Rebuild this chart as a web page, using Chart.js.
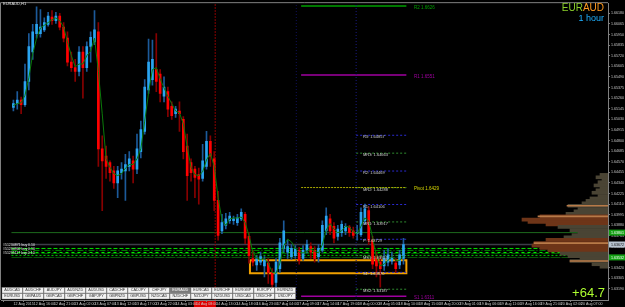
<!DOCTYPE html>
<html>
<head>
<meta charset="utf-8">
<script src="https://cdn.jsdelivr.net/npm/chart.js@4/dist/chart.umd.min.js"></script>
<style>
html, body { margin: 0; padding: 0; background: #000; overflow: hidden; }
#wrap { position: relative; width: 625px; height: 307px; }
canvas { position: absolute; left: 0; top: 0; }
</style>
</head>
<body>
<div id="wrap">
  <canvas id="main" width="625" height="307"></canvas>
  <canvas id="prof" width="625" height="307"></canvas>
</div>
<script>
// EURAUD H1 candles
const opens = [
  1.6516,1.6520,1.6524,1.6519,1.6544,1.6576,1.6596,1.6596,1.6600,1.6606,
  1.6614,1.6610,1.6615,1.6603,1.6591,1.6565,1.6559,1.6555,1.6576,1.6559,
  1.6582,1.6587,1.6598,1.6471,1.6463,1.6456,1.6447,1.6434,1.6445,1.6447,
  1.6452,1.6458,1.6449,1.6468,1.6490,1.6535,1.6546,1.6557,1.6552,1.6528,
  1.6533,1.6517,1.6509,1.6512,1.6503,1.6474,1.6456,1.6449,1.6443,1.6439,
  1.6452,1.6479,1.6460,1.6415,1.6382,1.6388,1.6393,1.6393,1.6391,1.6395,
  1.6400,1.6376,1.6352,1.6345,1.6348,1.6344,1.6347,1.6337,1.6326,1.6341,
  1.6363,1.6359,1.6354,1.6355,1.6361,1.6352,1.6361,1.6365,1.6361,1.6354,
  1.6361,1.6382,1.6395,1.6387,1.6376,1.6380,1.6382,1.6386,1.6382,1.6379,
  1.6378,1.6393,1.6404,1.6372,1.6354,1.6348,1.6344,1.6348,1.6349,1.6347,
  1.6345,1.6352
];
const closes = [
  1.6520,1.6524,1.6519,1.6544,1.6582,1.6598,1.6606,1.6603,1.6608,1.6615,
  1.6610,1.6615,1.6603,1.6591,1.6565,1.6559,1.6555,1.6576,1.6559,1.6582,
  1.6592,1.6600,1.6471,1.6458,1.6452,1.6445,1.6434,1.6447,1.6449,1.6454,
  1.6460,1.6449,1.6471,1.6492,1.6538,1.6565,1.6568,1.6544,1.6531,1.6538,
  1.6514,1.6507,1.6514,1.6509,1.6468,1.6442,1.6445,1.6440,1.6438,1.6458,
  1.6479,1.6463,1.6415,1.6377,1.6391,1.6395,1.6398,1.6395,1.6396,1.6402,
  1.6374,1.6355,1.6348,1.6352,1.6354,1.6350,1.6337,1.6324,1.6348,1.6369,
  1.6382,1.6365,1.6363,1.6362,1.6350,1.6361,1.6367,1.6359,1.6352,1.6363,
  1.6388,1.6398,1.6382,1.6374,1.6384,1.6389,1.6387,1.6380,1.6377,1.6380,
  1.6402,1.6406,1.6372,1.6346,1.6344,1.6341,1.6352,1.6356,1.6353,1.6341,
  1.6356,1.6367
];
const highs = [
  1.6524,1.6533,1.6527,1.6563,1.6596,1.6606,1.6625,1.6622,1.6613,1.6619,
  1.6621,1.6619,1.6618,1.6608,1.6598,1.6576,1.6568,1.6582,1.6582,1.6587,
  1.6598,1.6621,1.6608,1.6485,1.6474,1.6458,1.6452,1.6452,1.6456,1.6465,
  1.6468,1.6463,1.6487,1.6501,1.6546,1.6590,1.6589,1.6596,1.6557,1.6549,
  1.6538,1.6522,1.6517,1.6522,1.6506,1.6487,1.6460,1.6452,1.6450,1.6476,
  1.6490,1.6485,1.6468,1.6425,1.6400,1.6401,1.6402,1.6398,1.6400,1.6406,
  1.6402,1.6380,1.6361,1.6355,1.6359,1.6354,1.6352,1.6341,1.6352,1.6374,
  1.6393,1.6372,1.6367,1.6366,1.6364,1.6366,1.6372,1.6369,1.6365,1.6367,
  1.6393,1.6407,1.6400,1.6391,1.6388,1.6393,1.6390,1.6388,1.6386,1.6388,
  1.6407,1.6411,1.6408,1.6376,1.6359,1.6354,1.6361,1.6363,1.6359,1.6352,
  1.6361,1.6374
];
const lows = [
  1.6512,1.6514,1.6509,1.6517,1.6535,1.6568,1.6591,1.6592,1.6598,1.6604,
  1.6606,1.6607,1.6600,1.6587,1.6561,1.6555,1.6544,1.6550,1.6526,1.6555,
  1.6565,1.6584,1.6452,1.6404,1.6439,1.6436,1.6428,1.6418,1.6438,1.6415,
  1.6447,1.6434,1.6444,1.6461,1.6487,1.6531,1.6540,1.6533,1.6522,1.6522,
  1.6506,1.6503,1.6505,1.6490,1.6460,1.6415,1.6436,1.6418,1.6411,1.6436,
  1.6449,1.6452,1.6404,1.6372,1.6379,1.6384,1.6390,1.6389,1.6388,1.6393,
  1.6368,1.6347,1.6344,1.6339,1.6345,1.6332,1.6325,1.6318,1.6321,1.6337,
  1.6359,1.6352,1.6351,1.6352,1.6346,1.6350,1.6358,1.6352,1.6348,1.6348,
  1.6359,1.6378,1.6378,1.6369,1.6372,1.6376,1.6378,1.6376,1.6374,1.6372,
  1.6376,1.6389,1.6367,1.6341,1.6332,1.6321,1.6339,1.6344,1.6346,1.6337,
  1.6341,1.6346
];
// moving average drawn through the candles
const ma = [
  1.6518,1.6520,1.6521,1.6529,1.6548,1.6574,1.6591,1.6602,1.6605,1.6608,
  1.6611,1.6613,1.6610,1.6603,1.6587,1.6572,1.6560,1.6563,1.6563,1.6572,
  1.6577,1.6591,1.6555,1.6509,1.6460,1.6451,1.6444,1.6442,1.6444,1.6450,
  1.6454,1.6454,1.6460,1.6471,1.6501,1.6532,1.6557,1.6559,1.6547,1.6537,
  1.6528,1.6520,1.6512,1.6510,1.6498,1.6473,1.6451,1.6443,1.6442,1.6446,
  1.6459,1.6466,1.6452,1.6418,1.6394,1.6388,1.6395,1.6396,1.6396,1.6397,
  1.6391,1.6377,1.6359,1.6352,1.6351,1.6352,1.6347,1.6337,1.6336,1.6347,
  1.6366,1.6373,1.6370,1.6363,1.6359,1.6358,1.6360,1.6362,1.6360,1.6358,
  1.6367,1.6383,1.6390,1.6384,1.6380,1.6382,1.6387,1.6386,1.6381,1.6379,
  1.6387,1.6396,1.6393,1.6375,1.6354,1.6344,1.6346,1.6350,1.6354,1.6350,
  1.6350,1.6355
];

// weekly levels (long lines) and daily levels (short dotted lines)
const weeklyNames = ['R2', 'R1', 'Pivot', 'S1'];
const weeklyLevels = [1.6626, 1.6551, 1.6429, 1.6311];
const dailyNames = ['R3', 'MR3', 'R2', 'MR2', 'R1', 'MR1', 'P', 'MS1', 'S1', 'MS2'];
const dailyLevels = [1.64857, 1.64663, 1.64469, 1.64288, 1.64106, 1.63917, 1.63729, 1.63552, 1.63370, 1.63187];
const orderLevels = [1.63629, 1.63608, 1.63586, 1.63575, 1.63554, 1.63532];
const supportLine = 1.63801;
const bidPrice = 1.63672;
const zoneTop = 1.6350, zoneBottom = 1.6336;

// volume profile on the right
const profPrices = [
  1.6438,1.6435,1.6432,1.6429,1.6425,1.6422,1.6419,1.6416,1.6412,1.6409,
  1.6406,1.6403,1.6400,1.6396,1.6393,1.6390,1.6387,1.6383,1.6380,1.6377,
  1.6374,1.6370,1.6367,1.6364,1.6361,1.6358,1.6354,1.6351,1.6348,1.6345,
  1.6341,1.6338,1.6335,1.6332,1.6328,1.6325
];
const profVolumes = [
  8,12,6,10,14,8,12,16,10,18,
  22,26,40,30,34,42,68,86,80,62,
  50,38,30,36,44,62,74,76,68,60,
  48,40,28,38,16,8
];
const profPeakPrices = [1.6400, 1.6387, 1.6354, 1.6332];
const profPeakVolumes = [41, 70, 74, 38];

const priceTicks = [
  1.66180,1.66065,1.65950,1.65835,1.65720,1.65605,1.65490,1.65375,1.65260,
  1.65145,1.65030,1.64915,1.64800,1.64685,1.64570,1.64455,1.64340,1.64225,
  1.64110,1.63995,1.63880,1.63765,1.63650,1.63535,1.63420,1.63305,1.63190
];
const timeTicks = [
  '12 Aug 2015','12 Aug 16:00','12 Aug 21:00','13 Aug 02:00','13 Aug 07:00',
  '13 Aug 12:00','13 Aug 17:00','13 Aug 22:00','14 Aug 03:00','14 Aug 08:00',
  '14 Aug 13:00','14 Aug 18:00','16 Aug 23:00','17 Aug 04:00','17 Aug 09:00',
  '17 Aug 14:00','17 Aug 19:00','18 Aug 00:00','18 Aug 05:00','18 Aug 10:00',
  '18 Aug 15:00','18 Aug 20:00','19 Aug 01:00','19 Aug 06:00','19 Aug 11:00',
  '19 Aug 16:00','19 Aug 21:00','20 Aug 02:00','20 Aug 07:00'
];
const symbolsRow1 = ['AUDCAD','AUDCHF','AUDJPY','AUDNZD','AUDUSD','CADCHF','CADJPY','CHFJPY','EURAUD','EURCAD','EURCHF','EURGBP','EURJPY','EURNZD'];
const symbolsRow2 = ['EURUSD','GBPAUD','GBPCAD','GBPCHF','GBPJPY','GBPNZD','GBPUSD','NZDCAD','NZDCHF','NZDJPY','NZDUSD','USDCAD','USDCHF','USDJPY'];
const profitText = '+64.7';

const yMin = 1.6307, yMax = 1.6629;
const xMin = -0.5, xMax = 151.25;
const tickStep = 5.25;

const bull = '#2aa4f0', bullWick = '#1c5a9a', bear = '#ff0000', bearWick = '#870000';
const isUp = i => closes[i] >= opens[i];

function hline(y, x0, x1, color, dash, width) {
  return { type: 'line', data: [{ x: x0, y: y }, { x: x1, y: y }], borderColor: color,
    borderDash: dash || [], borderWidth: width || 1, pointRadius: 0, order: 3 };
}
function vline(x, color, dash) {
  return { type: 'line', data: [{ x: x, y: yMin }, { x: x, y: yMax }], borderColor: color,
    borderDash: dash, borderWidth: 1, pointRadius: 0, order: 3 };
}

const datasets = [];
datasets.push({
  type: 'line', data: ma.map((v, i) => ({ x: i, y: v })), borderColor: '#0a7a0a',
  borderWidth: 1, pointRadius: 0, order: 0
});
datasets.push({
  type: 'bar', data: closes.map((c, i) => ({ x: i, y: [opens[i], c] })),
  backgroundColor: ctx => isUp(ctx.dataIndex) ? bull : bear,
  barThickness: 2, minBarLength: 1, grouped: false, order: 1
});
datasets.push({
  type: 'bar', data: highs.map((h, i) => ({ x: i, y: [lows[i], h] })),
  backgroundColor: ctx => isUp(ctx.dataIndex) ? bullWick : bearWick,
  barThickness: 1, grouped: false, order: 2
});

// vertical separators
datasets.push(vline(52.25, '#8a0000', [2, 1]));
datasets.push(vline(73.25, '#10105a', [1, 2]));
datasets.push(vline(88.75, '#1a1a80', [1, 2]));

// weekly levels
const weeklyColors = ['#00a000', '#a000a0', '#a8a800', '#a000a0'];
weeklyLevels.forEach((v, k) => {
  datasets.push(hline(v, 74.5, 101.75, weeklyColors[k], k === 2 ? [2, 1] : [], k === 2 ? 1 : 1.5));
});
// daily levels
dailyLevels.forEach((v, k) => {
  const mid = dailyNames[k].startsWith('M');
  datasets.push(hline(v, 88.75, 101.75, mid ? '#2f8a2f' : '#2a2ad0', [2, 2]));
});
// full width lines
datasets.push(hline(supportLine, xMin, xMax, '#1d6a1d', [], 1));
datasets.push(hline(bidPrice, xMin, xMax, '#3c3c48', [], 1.5));
const orderColors = ['#00e000', '#008800', '#00ff00', '#006400', '#00cc00', '#0a5a0a'];
const orderDashes = [[4, 2], [6, 2, 1, 2], [3, 3], [8, 2], [2, 2], [10, 1]];
orderLevels.forEach((v, k) => {
  datasets.push(hline(v, xMin, xMax, orderColors[k], orderDashes[k], 1));
});
// trading zone rectangle
datasets.push({
  type: 'line',
  data: [{ x: 61.25, y: zoneTop }, { x: 101.75, y: zoneTop }, { x: 101.75, y: zoneBottom },
         { x: 61.25, y: zoneBottom }, { x: 61.25, y: zoneTop }],
  borderColor: '#f0a000', borderWidth: 2, pointRadius: 0, order: 3
});

const font = 'Liberation Sans';

const mtPlugin = {
  id: 'mt',
  beforeDraw(chart) {
    const c = chart.ctx, xs = chart.scales.x;
    c.save();
    c.fillStyle = '#000';
    c.fillRect(0, 0, chart.width, chart.height);
    const x9 = xs.getPixelForValue(9 * tickStep);
    c.fillStyle = '#e00000';
    c.fillRect(x9 - 2, 301, 22, 6);
    c.restore();
  },
  afterDraw(chart) {
    const c = chart.ctx, xs = chart.scales.x, ys = chart.scales.y, a = chart.chartArea;
    c.save();
    // frame
    c.strokeStyle = '#808080';
    c.lineWidth = 1;
    c.beginPath();
    c.moveTo(a.left - 0.5, a.bottom); c.lineTo(a.left - 0.5, a.top - 0.5); c.lineTo(a.right, a.top - 0.5);
    c.stroke();

    // title
    c.font = '4px ' + font;
    c.fillStyle = '#e0e0e0';
    c.textBaseline = 'middle';
    c.textAlign = 'left';
    c.fillText('EURAUD,H1', 3, 3.5);

    // weekly level labels
    c.font = '4.5px ' + font;
    weeklyLevels.forEach((v, k) => {
      c.fillStyle = weeklyColors[k] === '#a8a800' ? '#d8d800' : weeklyColors[k];
      c.fillText(weeklyNames[k] + ' ' + v.toFixed(4), xs.getPixelForValue(103.75), ys.getPixelForValue(v) + 1.5);
    });
    // daily level labels
    c.font = '4px ' + font;
    c.fillStyle = '#d0d0d0';
    dailyLevels.forEach((v, k) => {
      c.fillText(dailyNames[k] + ': ' + v.toFixed(5), xs.getPixelForValue(90.5), ys.getPixelForValue(v) + 2);
    });

    // order labels on the left
    c.font = '3.5px ' + font;
    c.fillStyle = '#e8e8e8';
    ['#51234871 buy 0.10', '#51234902 buy 0.10', '#51235117 buy 0.10'].forEach((t, k) => {
      c.fillText(t, 3, ys.getPixelForValue(orderLevels[0]) - 3 + k * 4);
    });

    // symbol and timeframe
    c.textAlign = 'right';
    c.textBaseline = 'alphabetic';
    c.font = '10px ' + font;
    const audW = c.measureText('AUD').width;
    c.fillStyle = '#ff9a1f';
    c.fillText('AUD', a.right - 4, 11);
    c.fillStyle = '#8cd02a';
    c.fillText('EUR', a.right - 4 - audW, 11);
    c.fillStyle = '#1fb0ff';
    c.font = '9px ' + font;
    c.fillText('1 hour', a.right - 4, 21);

    // profit
    c.font = '13px ' + font;
    c.fillStyle = '#adff2f';
    c.fillText(profitText, a.right - 3, a.bottom - 3);

    // symbol buttons
    c.textAlign = 'center';
    c.textBaseline = 'middle';
    c.font = '3.8px ' + font;
    [symbolsRow1, symbolsRow2].forEach((row, r) => {
      row.forEach((s, k) => {
        const bx = 2 + k * 21, by = a.bottom - 12.5 + r * 6;
        const sel = s === 'EURAUD' && r === 0;
        c.fillStyle = sel ? '#7a7a7a' : '#f2f2f2';
        c.fillRect(bx, by, 20.5, 5.5);
        c.strokeStyle = '#8c8c8c';
        c.lineWidth = 0.5;
        c.strokeRect(bx, by, 20.5, 5.5);
        c.fillStyle = sel ? '#ffffff' : '#303030';
        c.fillText(s, bx + 10.25, by + 2.9);
      });
    });

    // price tags on the axis
    const tag = (v, bg, fg) => {
      const py = ys.getPixelForValue(v);
      c.fillStyle = bg;
      c.fillRect(a.right + 1, py - 3, 16, 6);
      c.fillStyle = fg;
      c.textAlign = 'left';
      c.font = '3.6px ' + font;
      c.fillText(v.toFixed(5), a.right + 3, py + 0.3);
    };
    tag(supportLine, '#14a014', '#ffffff');
    tag(bidPrice, '#b8c4d0', '#101010');
    tag(orderLevels[5], '#14a014', '#ffffff');
    c.restore();
  }
};

new Chart(document.getElementById('main'), {
  type: 'bar',
  data: { datasets: datasets },
  options: {
    responsive: false,
    animation: false,
    devicePixelRatio: 1,
    layout: { padding: { left: 1, top: 1, right: 0, bottom: 0 } },
    plugins: { legend: { display: false }, tooltip: { enabled: false } },
    scales: {
      x: {
        type: 'linear', min: xMin, max: xMax,
        afterFit: s => { s.height = 7; },
        afterBuildTicks: s => { s.ticks = timeTicks.map((t, k) => ({ value: k * tickStep })); },
        ticks: {
          callback: (v, i) => timeTicks[i], color: '#c8c8c8', font: { size: 3.6, family: font },
          padding: 0, maxRotation: 0, autoSkip: false, align: 'start'
        },
        grid: { drawOnChartArea: false, tickLength: 2, color: '#808080' },
        border: { color: '#808080' }
      },
      y: {
        type: 'linear', position: 'right', min: yMin, max: yMax,
        afterFit: s => { s.width = 17; },
        afterBuildTicks: s => { s.ticks = priceTicks.map(v => ({ value: v })); },
        ticks: {
          callback: v => v.toFixed(5), color: '#c8c8c8', font: { size: 3.6, family: font },
          padding: 1
        },
        grid: { drawOnChartArea: false, tickLength: 2, color: '#808080' },
        border: { color: '#808080' }
      }
    }
  },
  plugins: [mtPlugin]
});

// volume profile overlay, same price scale
new Chart(document.getElementById('prof'), {
  type: 'bar',
  data: {
    datasets: [
      {
        data: profPeakPrices.map((p, k) => ({ y: p, x: profPeakVolumes[k] })),
        backgroundColor: '#b87a48', barThickness: 1, grouped: false, order: 0
      },
      {
        data: profPrices.map((p, k) => ({ y: p, x: profVolumes[k] })),
        backgroundColor: ctx => profVolumes[ctx.dataIndex] >= 60 ? '#6e3518' : '#4a4434',
        barThickness: 3, grouped: false, order: 1
      }
    ]
  },
  options: {
    indexAxis: 'y',
    responsive: false,
    animation: false,
    devicePixelRatio: 1,
    layout: { padding: { left: 1, top: 1, right: 17, bottom: 7 } },
    plugins: { legend: { display: false }, tooltip: { enabled: false } },
    scales: {
      x: { type: 'linear', reverse: true, min: 0, max: 607, display: false },
      y: { type: 'linear', min: yMin, max: yMax, display: false }
    }
  }
});
</script>
</body>
</html>
